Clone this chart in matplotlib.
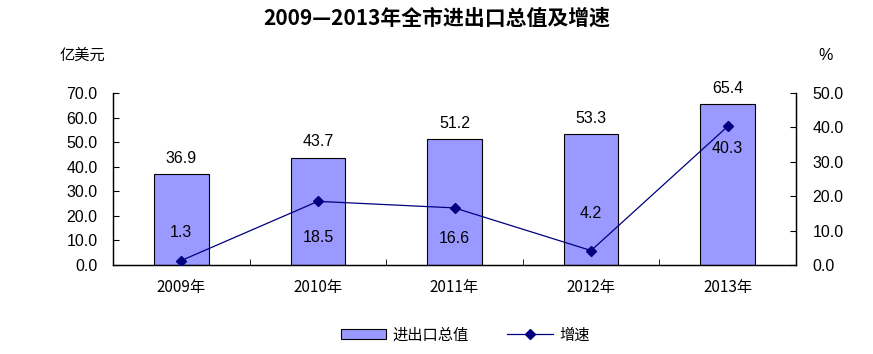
import matplotlib
matplotlib.use("Agg")
import matplotlib.pyplot as plt
from matplotlib.lines import Line2D
from matplotlib.patches import Patch

plt.rcParams['font.family'] = ['Liberation Sans', 'Noto Sans CJK SC', 'DejaVu Sans']

years = ["2009年", "2010年", "2011年", "2012年", "2013年"]
trade_total = [36.9, 43.7, 51.2, 53.3, 65.4]
growth = [1.3, 18.5, 16.6, 4.2, 40.3]
# label vertical offsets in points for growth labels (style)
growth_label_offsets = [20, -26, -22, 27, -16]

fig = plt.figure(figsize=(8.73, 3.54), dpi=100)
ax = fig.add_axes([113/873, 1-265/354, (796-113)/873, (265-93)/354])
ax2 = ax.twinx()

x = list(range(len(years)))
bars = ax.bar(x, trade_total, width=0.4, color='#9999FF', edgecolor='black', linewidth=0.8, zorder=2)
ax.set_xlim(-0.5, len(years)-0.5)
ax.set_ylim(0, 70)
ax.set_yticks([0, 10, 20, 30, 40, 50, 60, 70])
ax.set_yticklabels([f"{v:.1f}" for v in [0, 10, 20, 30, 40, 50, 60, 70]])
ax.set_xticks(x)
ax.set_xticklabels(years, fontsize=11, family=['Noto Sans CJK SC'])
ax.tick_params(axis='x', length=0, pad=10)
ax.set_xticks([i + 0.5 for i in range(len(years)-1)], minor=True)
ax.tick_params(axis='x', which='minor', direction='in', length=4)
ax.tick_params(axis='y', direction='in', length=4, labelsize=11.5, pad=11)

for xi, v in zip(x, trade_total):
    ax.annotate(f"{v:.1f}", (xi, v), xytext=(0, 6), textcoords='offset points',
                ha='center', va='bottom', fontsize=11.5)

ax2.set_ylim(0, 50)
ax2.set_yticks([0, 10, 20, 30, 40, 50])
ax2.set_yticklabels([f"{v:.1f}" for v in [0, 10, 20, 30, 40, 50]])
ax2.tick_params(axis='y', direction='in', length=4, labelsize=11.5, pad=12)
ax2.plot(x, growth, color='#000080', marker='D', markersize=5, linewidth=0.9, zorder=3)
for xi, v, off in zip(x, growth, growth_label_offsets):
    ax2.annotate(f"{v:.1f}", (xi, v), xytext=(0, off), textcoords='offset points',
                 ha='center', va='center', fontsize=11.5)

for a in (ax, ax2):
    a.spines['top'].set_visible(False)
    for s in a.spines.values():
        s.set_linewidth(0.9)

fig.text(437/873, 1-18/354, "2009—2013年全市进出口总值及增速", ha='center', va='center',
         fontsize=15, fontweight='bold', family=['Noto Sans CJK SC'])
fig.text(82/873, 1-55/354, "亿美元", ha='center', va='center', fontsize=11, family=['Noto Sans CJK SC'])
fig.text(826/873, 1-55/354, "%", ha='center', va='center', fontsize=11.5)

handles = [Patch(facecolor='#9999FF', edgecolor='black', linewidth=0.8),
           Line2D([0], [0], color='#000080', marker='D', markersize=5, linewidth=0.9)]
leg = fig.legend(handles, ["进出口总值", "增速"], loc='center', bbox_to_anchor=(465/873, 1-335/354),
                 ncol=2, frameon=False, prop={'family': 'Noto Sans CJK SC', 'size': 11},
                 handlelength=3, handleheight=0.6, columnspacing=2.5, handletextpad=0.4)

fig.savefig("out.png", dpi=100)
